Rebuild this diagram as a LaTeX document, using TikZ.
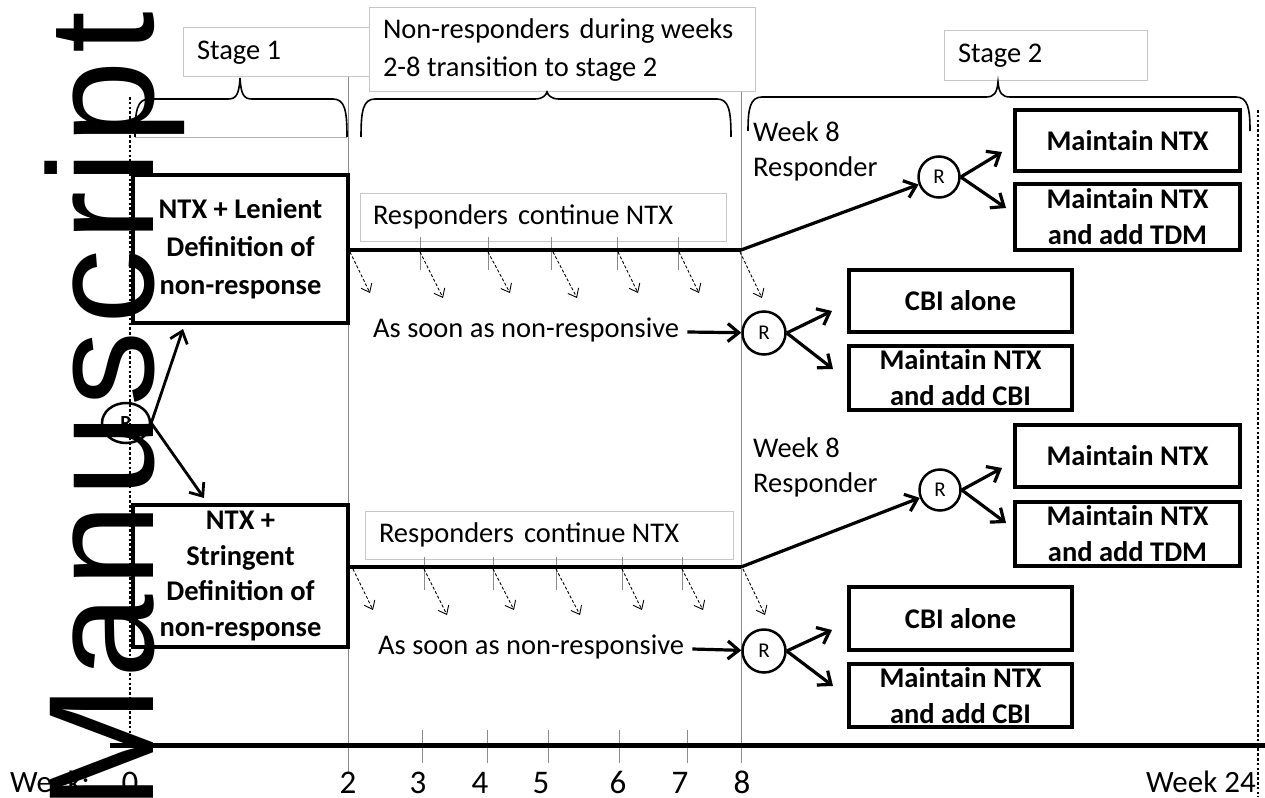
\documentclass[tikz,border=0pt]{standalone}
\usepackage{fontspec}
\setmainfont{Carlito}
\newfontfamily\wmfont{Liberation Sans}
\usetikzlibrary{arrows.meta,shapes.geometric}
\newcommand{\topbrace}[6]{% left x, right x, tip x, top y, tip y, end y
  \draw[bracestyle] (#1,#6) .. controls (#1,{#4+12}) and ({#1+2},#4) .. ({#1+14},#4)
    -- ({#3-12},#4) .. controls ({#3-4},#4) and ({#3-1},{#4-4}) .. (#3,#5)
    .. controls ({#3+1},{#4-4}) and ({#3+4},#4) .. ({#3+12},#4)
    -- ({#2-14},#4) .. controls ({#2-2},#4) and (#2,{#4+12}) .. (#2,#6);}
\begin{document}
\begin{tikzpicture}[x=1pt,y=-1pt,
  font=\fontsize{28.5}{36}\selectfont,
  box/.style={draw, line width=3.3pt, fill=white, inner sep=0pt, align=center,
    font=\fontsize{28.5}{36}\selectfont\bfseries},
  lblbox/.style={draw=black!22, line width=1pt, fill=white, inner ysep=0pt, align=flush left},
  rcirc/.style={draw, circle, line width=2.5pt, inner sep=0pt, minimum size=41pt,
    font=\fontsize{21}{21}\selectfont},
  thk/.style={line width=3.2pt, -{Straight Barb[length=11pt,width=18pt]}},
  resp/.style={line width=4pt},
  dasharr/.style={line width=0.9pt, dash pattern=on 3pt off 2pt,
    -{Straight Barb[length=7.5pt,width=12pt]}},
  vgrid/.style={draw=black!45, line width=0.8pt},
  tickl/.style={draw=black!45, line width=0.7pt},
  bracestyle/.style={line width=1.6pt},
  dotl/.style={line width=2.6pt, dash pattern=on 2.6pt off 2.2pt},
  axl/.style={font=\fontsize{33}{36}\selectfont, inner sep=0pt, anchor=base},
  axw/.style={font=\fontsize{31}{36}\selectfont, inner sep=0pt}
]
\useasboundingbox (0,0) rectangle (1265,797);

% grid lines
\coordinate (g2t) at (348,30); \coordinate (g2b) at (348,772);
\coordinate (g8t) at (741,10); \coordinate (g8b) at (741,763);
\draw[vgrid] (g2t) -- (g2b);
\draw[vgrid] (g8t) -- (g8b);
\draw[black!30, line width=0.8pt] (135,137) -- (347,137);

% header label boxes
\node[lblbox, minimum height=49pt, text width=164pt, inner xsep=14pt] (s1) at (279,52.5) {Stage 1};
\node[lblbox, minimum height=84pt, text width=358pt, inner xsep=14pt,
  font=\fontsize{28.5}{38}\selectfont] (nr) at (562,50) {Non-responders\hspace{10pt}during weeks\\2-8 transition to stage 2};
\node[lblbox, minimum height=50pt, text width=175pt, inner xsep=14pt] (s2) at (1045.5,56) {Stage 2};

% braces
\topbrace{135}{347}{240}{99}{78}{137}
\topbrace{361}{731}{547}{99}{92}{137}
\topbrace{748}{1250}{998}{97}{82}{131}

% responders label boxes
\node[lblbox, minimum height=48pt, text width=340pt, inner xsep=13pt] (rcu) at (543,217) {Responders\hspace{10pt}continue NTX};
\node[lblbox, minimum height=48pt, text width=340pt, inner xsep=14pt] (rcl) at (549,535) {Responders\hspace{10pt}continue NTX};

% ticks
\foreach \x in {420,488,551,617,678} \draw[tickl] (\x,237) -- (\x,270);
\foreach \x in {424,493,556,622,682} \draw[tickl] (\x,557) -- (\x,590);
\foreach \x in {422,487,548,619,687} \draw[tickl] (\x,730) -- (\x,763);

% timeline
\coordinate (t0) at (110,745); \coordinate (t1) at (1265,745);
\draw[line width=5pt] (t0) -- (t1);
\node[axw, anchor=base west] (wk) at (10,792) {Week:};
\node[axl] (w0) at (130,793) {0};
\node[axl] (w2) at (348,793) {2};
\node[axl] (w3) at (418,793) {3};
\node[axl] (w4) at (480,793) {4};
\node[axl] (w5) at (541,793) {5};
\node[axl] (w6) at (618,793) {6};
\node[axl] (w7) at (680,793) {7};
\node[axl] (w8) at (742,793) {8};
\node[axw, anchor=base east] (w24) at (1256,792) {Week 24};

% stage 1 boxes
\node[box, minimum width=215pt, minimum height=148pt, font=\fontsize{28.5}{38}\selectfont\bfseries] (len) at (240.5,249) {NTX + Lenient\\Definition of\\non-response};
\node[box, minimum width=215pt, minimum height=142pt, font=\fontsize{28.5}{35.5}\selectfont\bfseries] (str) at (240.5,576) {NTX +\\Stringent\\Definition of\\non-response};

% randomisation at start
\node[draw, ellipse, line width=2.5pt, inner sep=0pt, minimum width=48pt, minimum height=40pt,
  font=\fontsize{20}{20}\selectfont\bfseries] (L) at (126,423) {R};
\coordinate (Lt1) at (183,329);
\coordinate (Lt2) at (204,498);
\draw[thk, line width=2.8pt] (L.east) -- (Lt1);
\draw[thk, line width=2.8pt] (L.east) -- (Lt2);

% ---------- upper arm ----------
\coordinate (ju) at (741,250);
\node[rcirc] (R1u) at (939,177) {R};
\node[rcirc, minimum size=43pt] (R2u) at (764,333) {R};
\draw[resp] (ju -| len.east) -- (ju);
\draw[thk] (ju) -- (R1u);
\foreach \sx/\ex/\ey in {350/370/293,420/443/298,488/510/293,553/577/298,618/638/293,679/699/293,740/762/298}
  \draw[dasharr] (\sx,252) -- (\ex,\ey);
\node[anchor=west, inner sep=4pt, align=left, font=\fontsize{28.5}{35}\selectfont] (wku) at (749,151) {Week 8\\Responder};
\node[anchor=west, inner sep=4pt] (asu) at (369,330) {As soon as non-responsive};
\draw[thk] (asu.east) ++(4,2) coordinate (asus) -- (R2u);
\node[box, minimum width=225pt, minimum height=61pt] (mu) at (1127.5,140.5) {Maintain NTX};
\node[box, minimum width=225pt, minimum height=66pt] (tu) at (1127.5,217) {Maintain NTX\\and add TDM};
\node[box, minimum width=223pt, minimum height=62pt] (cu) at (960.5,301) {CBI alone};
\node[box, minimum width=223pt, minimum height=64pt] (au) at (960.5,378) {Maintain NTX\\and add CBI};
\coordinate (u1a) at (1002,152); \coordinate (u1b) at (1006,208);
\coordinate (u2a) at (832,311); \coordinate (u2b) at (833,369);
\draw[thk] (R1u.east) -- (u1a);
\draw[thk] (R1u.east) -- (u1b);
\draw[thk] (R2u.east) -- (u2a);
\draw[thk] (R2u.east) -- (u2b);

% ---------- lower arm ----------
\coordinate (jl) at (741,567);
\node[rcirc] (R1l) at (940,490) {R};
\node[rcirc, minimum size=43pt] (R2l) at (764,651) {R};
\draw[resp] (jl -| str.east) -- (jl);
\draw[thk] (jl) -- (R1l);
\foreach \sx/\ex/\ey in {353/373/610,424/447/615,493/514/610,556/580/615,622/642/610,682/703/610,743/765/615}
  \draw[dasharr] (\sx,569) -- (\ex,\ey);
\node[anchor=west, inner sep=4pt, align=left, font=\fontsize{28.5}{35}\selectfont] (wkl) at (749,467) {Week 8\\Responder};
\node[anchor=west, inner sep=4pt] (asl) at (374,647) {As soon as non-responsive};
\draw[thk] (asl.east) ++(4,2) coordinate (asls) -- (R2l);
\node[box, minimum width=225pt, minimum height=62pt] (ml) at (1127.5,456) {Maintain NTX};
\node[box, minimum width=225pt, minimum height=64pt] (tl) at (1127.5,534) {Maintain NTX\\and add TDM};
\node[box, minimum width=223pt, minimum height=63pt] (cl) at (960.5,618.5) {CBI alone};
\node[box, minimum width=223pt, minimum height=63pt] (al) at (960.5,695.5) {Maintain NTX\\and add CBI};
\coordinate (l1a) at (1002,468); \coordinate (l1b) at (1006,523);
\coordinate (l2a) at (832,630); \coordinate (l2b) at (833,686);
\draw[thk] (R1l.east) -- (l1a);
\draw[thk] (R1l.east) -- (l1b);
\draw[thk] (R2l.east) -- (l2a);
\draw[thk] (R2l.east) -- (l2b);

% dotted boundaries
\coordinate (d0t) at (130,97); \coordinate (d0b) at (130,745);
\coordinate (d24t) at (1258,110); \coordinate (d24b) at (1258,797);
\draw[dotl] (d0t) -- (d0b);
\draw[dotl] (d24t) -- (d24b);

% watermark
\node[anchor=base west, rotate=90, inner sep=0pt, font=\wmfont\fontsize{150}{150}\selectfont] (wm) at (153,811)
  {M\kern7.3pt a\kern7.3pt n\kern7.3pt u\kern7.3pt s\kern7.3pt c\kern7.3pt r\kern7.3pt i\kern7.3pt p\kern7.3pt t};
\end{tikzpicture}
\end{document}
